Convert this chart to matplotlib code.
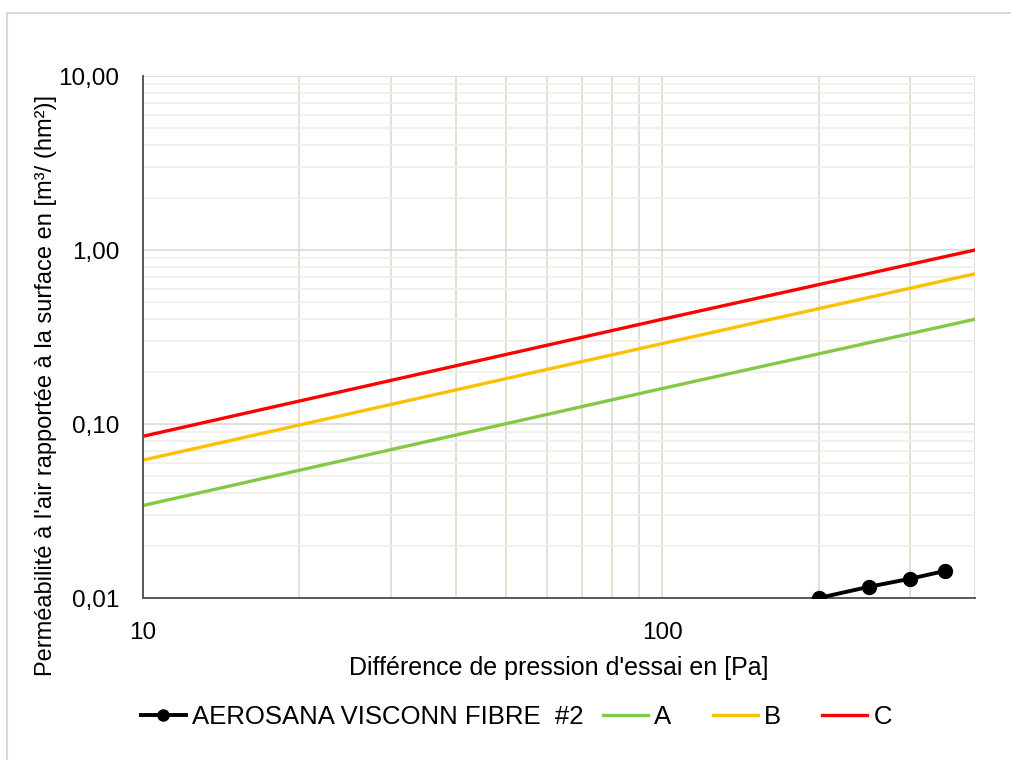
import matplotlib.pyplot as plt
from matplotlib.lines import Line2D
from matplotlib.patches import Rectangle
from matplotlib.ticker import FixedLocator, FuncFormatter, NullFormatter

plt.rcParams['font.family'] = ['Liberation Sans', 'DejaVu Sans']

# pression d'essai [Pa] et perméabilité [m3/(h.m2)]
p_classes = [10, 100, 400]
class_a = [0.034, 0.16, 0.40]
class_b = [0.062, 0.29, 0.73]
class_c = [0.085, 0.40, 1.00]

p_mesure = [150, 200, 250, 300, 350]
aerosana = [0.0083, 0.0100, 0.0116, 0.0129, 0.0143]

W, H = 1012, 760
fig = plt.figure(figsize=(W / 100, H / 100), dpi=100)
fig.patches.append(Rectangle((7 / W, -0.1), 1.2, 1.1 - 13 / H, transform=fig.transFigure,
                             fill=False, edgecolor='#d9d9d9', linewidth=1.5))
ax = fig.add_axes([143 / W, 1 - 598 / H, (975 - 143) / W, (598 - 76) / H])

ax.set_xscale('log')
ax.set_yscale('log')
ax.set_xlim(10, 400)
ax.set_ylim(0.01, 10)

# quadrillage
ax.xaxis.set_major_locator(FixedLocator([10, 100]))
ax.xaxis.set_minor_locator(FixedLocator([20, 30, 40, 50, 60, 70, 80, 90, 200, 300, 400]))
ax.xaxis.set_minor_formatter(NullFormatter())
ax.yaxis.set_major_locator(FixedLocator([0.01, 0.1, 1, 10]))
ax.yaxis.set_minor_locator(FixedLocator([k * 10.0 ** e for e in (-2, -1, 0) for k in range(2, 10)]))
ax.yaxis.set_minor_formatter(NullFormatter())
ax.xaxis.set_major_formatter(FuncFormatter(lambda v, pos: '%d' % v))
ax.yaxis.set_major_formatter(FuncFormatter(lambda v, pos: ('%.2f' % v).replace('.', ',')))

ax.grid(True, axis='x', which='both', color='#dedbc8', linewidth=1.2)
ax.grid(True, axis='y', which='major', color='#d9d9d9', linewidth=1.2)
ax.grid(True, axis='y', which='minor', color='#eeeeea', linewidth=1.2)
ax.set_axisbelow(True)

for s in ('top', 'right'):
    ax.spines[s].set_visible(False)
for s in ('left', 'bottom'):
    ax.spines[s].set_color('#595959')
    ax.spines[s].set_linewidth(1.4)
ax.tick_params(which='both', length=0, labelsize=17.5, colors='#000000')
ax.tick_params(axis='x', pad=17)
ax.tick_params(axis='y', pad=17)

l0, = ax.plot(p_mesure, aerosana, color='black', linewidth=2.8, marker='o', markersize=10,
              zorder=5)
la, = ax.plot(p_classes, class_a, color='#84c946', linewidth=2.4)
lb, = ax.plot(p_classes, class_b, color='#ffc000', linewidth=2.4)
lc, = ax.plot(p_classes, class_c, color='#ff0000', linewidth=2.4)

ax.set_xlabel("Différence de pression d'essai en [Pa]", fontsize=18, labelpad=9)
ax.set_ylabel("Perméabilité à l'air rapportée à la surface en [m³/ (hm²)]", fontsize=17)
ax.yaxis.set_label_coords(-0.103, 0.408)

# légende en deux blocs
kw = dict(loc='center left', frameon=False, fontsize=18.5, borderpad=0, borderaxespad=0,
          handlelength=1.75, handletextpad=0.25)
h0 = Line2D([], [], color='black', linewidth=2.8, marker='o', markersize=8)
leg1 = fig.legend([h0], ['AEROSANA VISCONN FIBRE  #2'], bbox_to_anchor=(141 / W, 1 - 717 / H), **kw)
leg2 = fig.legend([la, lb, lc], ['A', 'B', 'C'], bbox_to_anchor=(603 / W, 1 - 717 / H), ncol=3,
                  columnspacing=1.6, **kw)

fig.savefig('out.png', dpi=100)
